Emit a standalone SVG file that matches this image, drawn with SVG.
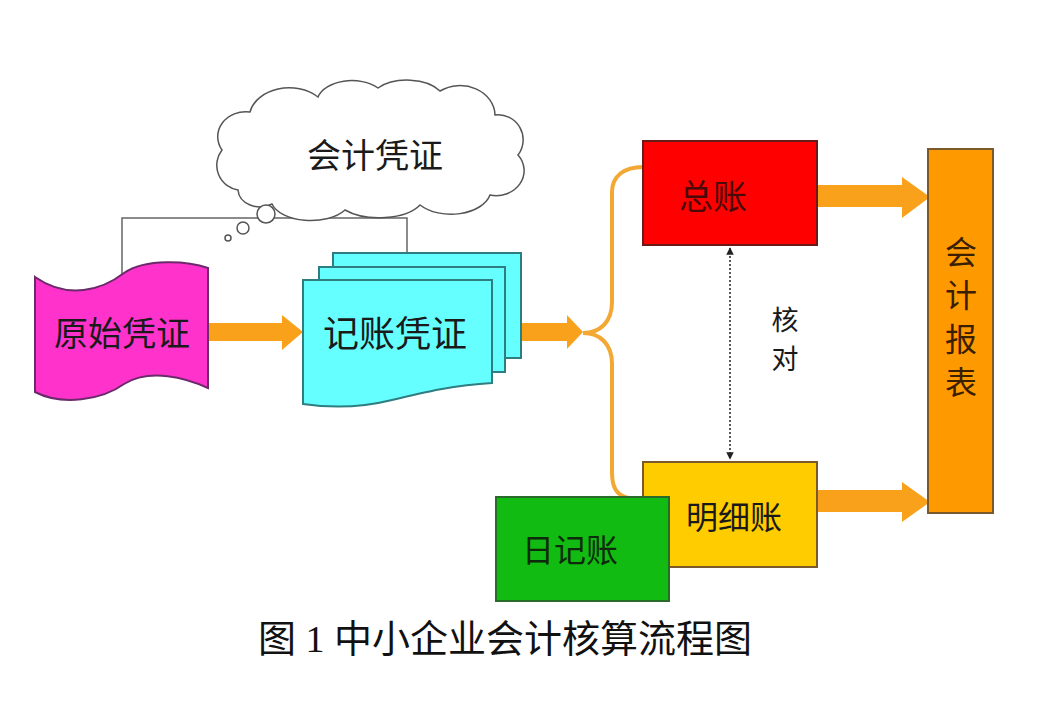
<svg xmlns="http://www.w3.org/2000/svg" width="1051" height="711" viewBox="0 0 1051 711">
<style>
.lbl{font-family:"Noto Sans CJK SC","Noto Sans CJK TC",sans-serif;fill:#1a1a1a;text-anchor:middle;dominant-baseline:central}
.cap{font-family:"Liberation Serif","Noto Sans CJK SC",serif;fill:#111;text-anchor:middle;font-size:38px}
.arrow{fill:#F9A11B}
.brace{fill:none;stroke:#F2A833;stroke-width:4}
.gray{fill:none;stroke:#666;stroke-width:1.5}
.page{fill:#66FFFF;stroke:#2E7D80;stroke-width:2}
</style>
<defs>
<marker id="tri" viewBox="0 0 10 10" refX="9" refY="5" markerWidth="5" markerHeight="5" orient="auto-start-reverse">
<path d="M0,0 L10,5 L0,10 Z" fill="#222"/>
</marker>
</defs>
<rect width="1051" height="711" fill="#fff"/>

<g id="connectors">
<polyline class="gray" points="122,275 122,218 407,218 407,253"/>
<polygon class="arrow" points="208,323 282,323 282,315 303,332 282,350 282,341 208,341"/>
<polygon class="arrow" points="521,323 567,323 567,315 583,332 567,349 567,341 521,341"/>
<path class="brace" d="M583,333 C600,333 612,322 612,302 L612,192 C612,176 624,167 643,167"/>
<path class="brace" d="M583,333 C600,333 612,344 612,364 L612,472 C612,487 616,495 628,498"/>
<polygon class="arrow" points="817,185 902,185 902,177 930,197 902,218 902,207 817,207"/>
<polygon class="arrow" points="817,490 902,490 902,482 930,502 902,522 902,512 817,512"/>
<line x1="730" y1="248" x2="730" y2="459" stroke="#222" stroke-width="1.5" stroke-dasharray="2,2" marker-start="url(#tri)" marker-end="url(#tri)"/>
</g>

<g id="cloud">
<path d="M238,190 A25,25 0 0 1 222,150 A28,25 0 0 1 250,112 A40,30 0 0 1 318,97 A35,22 0 0 1 378,88 A38,22 0 0 1 440,91 A35,30 0 0 1 495,115 A25,25 0 0 1 518,155 A28,25 0 0 1 490,195 A40,25 0 0 1 420,205 A45,22 0 0 1 345,210 A40,22 0 0 1 272,204 A22,18 0 0 1 238,190 Z" fill="#fff" stroke="#555" stroke-width="1.5"/>
<circle cx="266" cy="214" r="9" fill="#fff" stroke="#555" stroke-width="1.5"/>
<circle cx="243" cy="228" r="6" fill="#fff" stroke="#555" stroke-width="1.5"/>
<circle cx="228" cy="238" r="3" fill="#fff" stroke="#555" stroke-width="1.5"/>
<text class="lbl" x="375" y="153" font-size="34">会计凭证</text>
</g>

<g id="yuanshi">
<path d="M35,277 C68,300 102,290 124,273 C146,258 188,261 208,268 L208,388 C186,378 150,368 124,384 C102,400 62,406 35,392 Z" fill="#FF33CC" stroke="#6B2A6B" stroke-width="2"/>
<text class="lbl" x="122" y="331" font-size="34">原始凭证</text>
</g>

<g id="jizhang">
<rect class="page" x="333" y="253" width="188" height="105"/>
<rect class="page" x="319" y="267" width="186" height="105"/>
<path class="page" d="M303,280 L492,280 L492,383 C455,385 425,392 392,400 C360,408 330,408 303,404 Z"/>
<text class="lbl" x="395" y="331" font-size="36">记账凭证</text>
</g>

<g id="zongzhang">
<rect x="643" y="141" width="174" height="104" fill="#FF0000" stroke="#6B1A1A" stroke-width="2"/>
<text class="lbl" x="713" y="194" font-size="34" style="fill:#4a0a0a">总账</text>
</g>

<g id="mingxi">
<rect x="643" y="462" width="174" height="105" fill="#FFCC00" stroke="#7A5A2A" stroke-width="2"/>
<text class="lbl" x="734" y="515" font-size="32">明细账</text>
</g>

<g id="riji">
<rect x="496" y="497" width="173" height="104" fill="#11BB11" stroke="#2A6A2A" stroke-width="2"/>
<text class="lbl" x="570" y="548" font-size="32" style="fill:#0d2a0d">日记账</text>
</g>

<g id="baobiao">
<rect x="928" y="149" width="65" height="364" fill="#FF9900" stroke="#7A5A2A" stroke-width="2"/>
<text class="lbl" font-size="32" style="fill:#3a2000"><tspan x="961" y="250">会</tspan><tspan x="961" y="293">计</tspan><tspan x="961" y="337">报</tspan><tspan x="961" y="380">表</tspan></text>
</g>

<g id="hedui">
<text class="lbl" font-size="27"><tspan x="785" y="318">核</tspan><tspan x="785" y="357">对</tspan></text>
</g>

<text class="cap" x="505" y="652">图 1 中小企业会计核算流程图</text>
</svg>
